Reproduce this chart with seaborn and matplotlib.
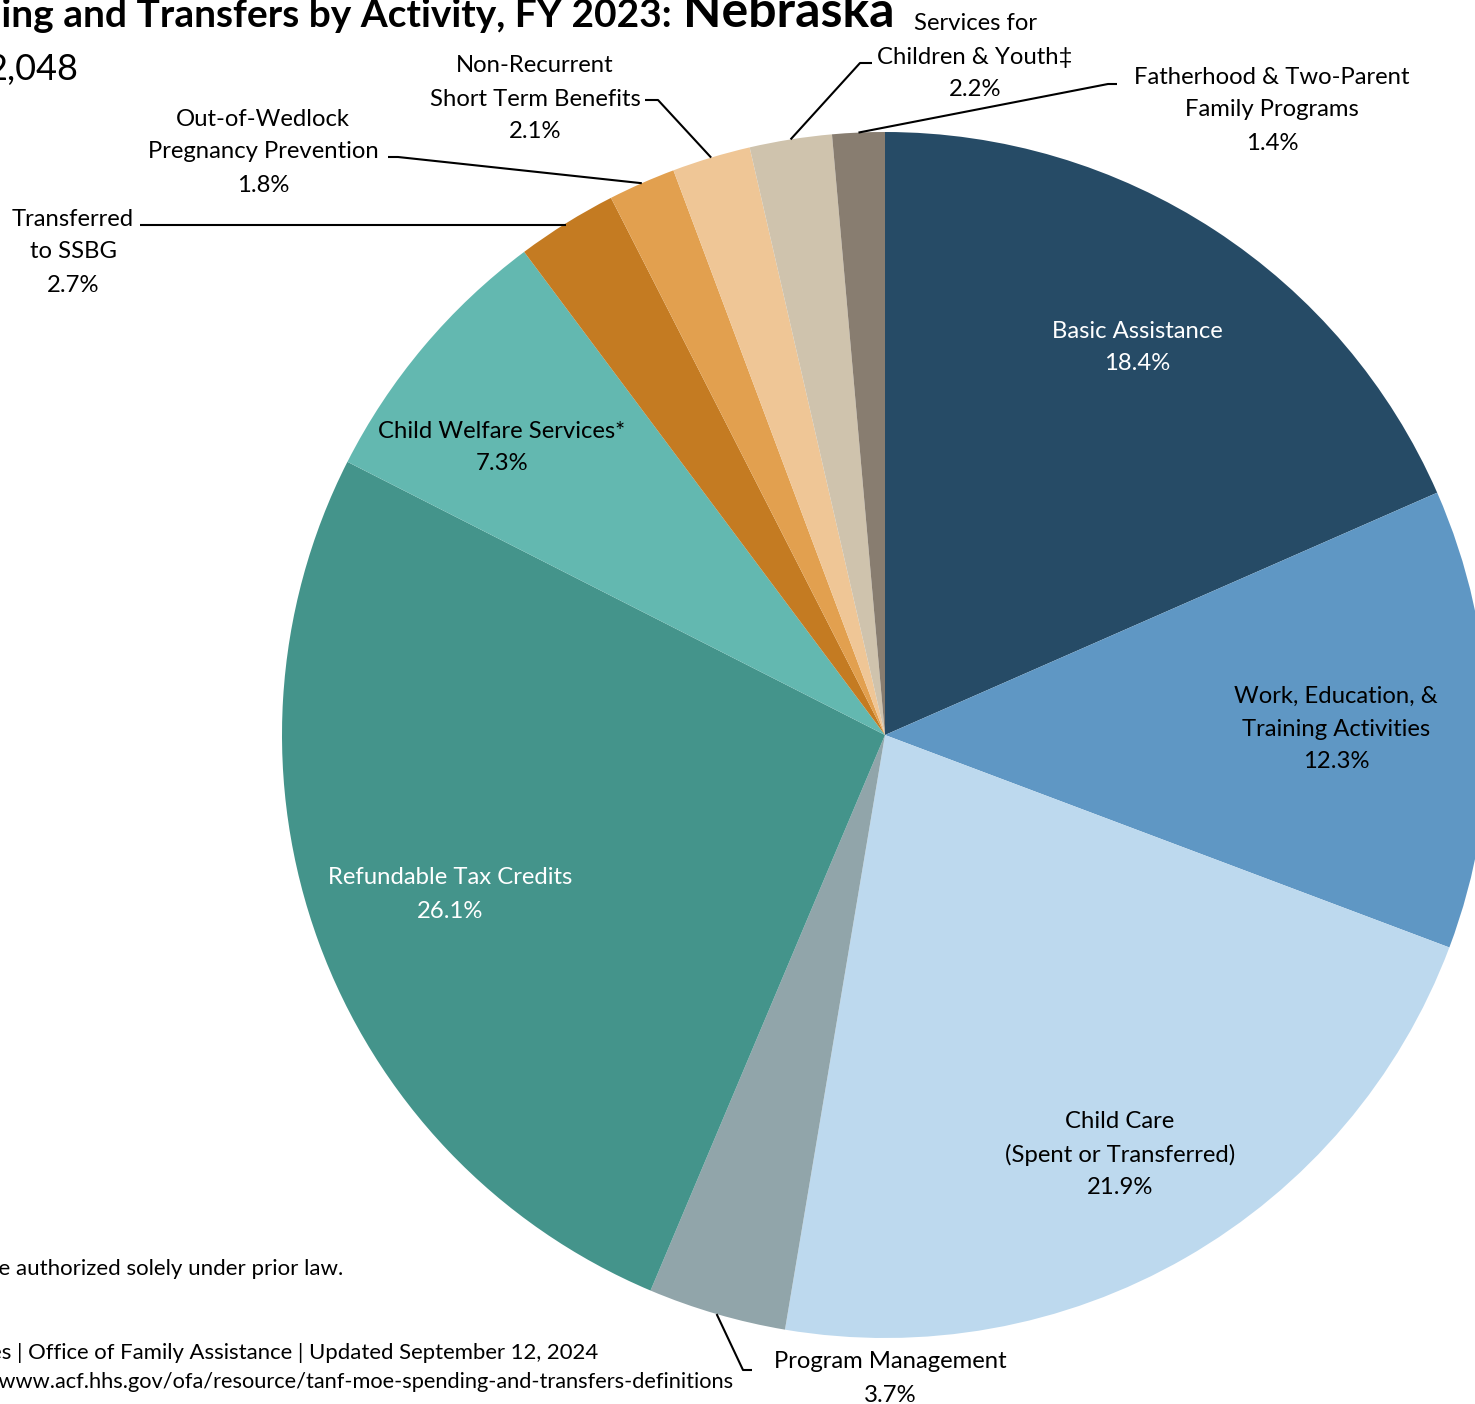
import matplotlib
matplotlib.use("Agg")
import matplotlib.pyplot as plt
import seaborn as sns
import numpy as np

# ---------------- data ----------------
categories = [
    "Basic Assistance",
    "Work, Education, &\nTraining Activities",
    "Child Care\n(Spent or Transferred)",
    "Program Management",
    "Refundable Tax Credits",
    "Child Welfare Services*",
    "Transferred\nto SSBG",
    "Out-of-Wedlock\nPregnancy Prevention",
    "Non-Recurrent\nShort Term Benefits",
    "Services for\nChildren & Youth\u2021",
    "Fatherhood & Two-Parent\nFamily Programs",
]
values = [18.4, 12.3, 21.9, 3.7, 26.1, 7.3, 2.7, 1.8, 2.1, 2.2, 1.4]
colors = ["#264b66", "#5f97c4", "#bdd9ee", "#91a5aa", "#44948b", "#63b8b0",
          "#c47b22", "#e2a04f", "#efc696", "#cfc3ad", "#887d70"]

title_main = "TANF and MOE Spending and Transfers by Activity, FY 2023:"
title_state = "Nebraska"
subtitle = "2,048"
footnote = "* Includes expenditures on activities that are authorized solely under prior law."
source = "Source: Administration for Children and Families | Office of Family Assistance | Updated September 12, 2024"
url = "For definitions, see https://www.acf.hhs.gov/ofa/resource/tanf-moe-spending-and-transfers-definitions"

# ---------------- style ----------------
sns.set_theme(style="white")
plt.rcParams["font.family"] = ["Lato", "DejaVu Sans"]

W, H = 1475, 1404
fig = plt.figure(figsize=(W / 100, H / 100), dpi=100)
ax = fig.add_axes([0, 0, 1, 1])

CX, CY, R = 885, 735, 603
wedges, _ = ax.pie(values, colors=colors, startangle=90, counterclock=False,
                   center=(CX, H - CY), radius=R,
                   wedgeprops=dict(linewidth=0, edgecolor="none"))
ax.set_xlim(0, W)
ax.set_ylim(0, H)
ax.set_aspect("equal")
ax.axis("off")


def txt(x, y, s, **kw):
    ax.text(x, H - y, s, **kw)


FS = 17.2
LS = 33
# label layout: (center x, first line y, text colour)
layout = {
    0: (1137, 329, "white"),
    1: (1336, 694, "black"),
    2: (1120, 1120, "black"),
    3: (890, 1360, "black"),
    4: (450, 876, "white"),
    5: (502, 429, "black"),
    6: (73, 217, "black"),
    7: (263, 117, "black"),
    8: (535, 64, "black"),
    9: (975, 22, "black"),
    10: (1272, 75, "black"),
}
for i, (cx, y0, col) in layout.items():
    lines = categories[i].split("\n") + [f"{values[i]:.1f}%"]
    for k, line in enumerate(lines):
        txt(cx, y0 + k * LS, line, ha="center", va="center_baseline",
            fontsize=FS, color=col)

# leader lines: start and elbow points (pixels); end at wedge middle on rim
leaders = {
    3: [(752, 1370), (743, 1370)],
    6: [(140, 225)],
    7: [(388, 157), (398, 157)],
    8: [(645, 100), (658, 100)],
    9: [(872, 63), (860, 63)],
    10: [(1117, 84), (1108, 84)],
}
for i, pts in leaders.items():
    w = wedges[i]
    mid = np.deg2rad((w.theta1 + w.theta2) / 2)
    ex = CX + R * np.cos(mid)
    ey = (H - CY) + R * np.sin(mid)
    xs = [p[0] for p in pts] + [ex]
    ys = [H - p[1] for p in pts] + [ey]
    if len(pts) == 1:
        xs = [pts[0][0], ex]
        ys = [H - pts[0][1], H - pts[0][1]]
    ax.plot(xs, ys, color="black", lw=1.5, solid_capstyle="butt")

# titles and notes (partially outside the canvas, as in the reference)
txt(672, 27, title_main, ha="right", va="baseline", fontsize=28,
    fontweight="bold", color="black")
txt(683, 27, title_state, ha="left", va="baseline", fontsize=36,
    fontweight="bold", color="black")
txt(78, 80, subtitle, ha="right", va="baseline", fontsize=26, color="black")
txt(343, 1267, footnote, ha="right", va="center_baseline", fontsize=16, color="black")
txt(598, 1351, source, ha="right", va="center_baseline", fontsize=15.9, color="black")
txt(733, 1380, url, ha="right", va="center_baseline", fontsize=15.7, color="black")

fig.savefig("out.png", dpi=100)
